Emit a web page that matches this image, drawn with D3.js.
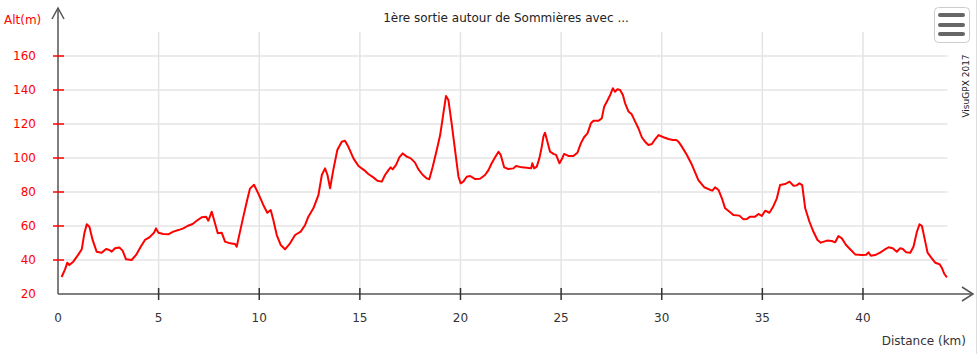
<!DOCTYPE html>
<html>
<head>
<meta charset="utf-8">
<script src="https://cdn.jsdelivr.net/npm/d3@7"></script>
<style>
  body { margin: 0; background: #fff; }
  svg { display: block; font-family: "DejaVu Sans", Verdana, sans-serif; }
</style>
</head>
<body>
<svg class="profile" width="980" height="354"></svg>
<script>
const title = "1ère sortie autour de Sommières avec ...";
const xTicks = [0, 5, 10, 15, 20, 25, 30, 35, 40];
const yTicks = [20, 40, 60, 80, 100, 120, 140, 160];

// distance (km) / altitude (m)
const dist = [0.18,0.35,0.46,0.56,0.76,1.0,1.18,1.31,1.43,1.56,1.72,1.92,2.17,2.39,2.55,2.67,2.83,3.05,3.21,3.38,3.66,3.88,4.11,4.32,4.54,4.77,4.87,4.99,5.23,5.48,5.73,5.98,6.23,6.43,6.69,6.89,7.14,7.36,7.47,7.64,7.8,7.94,8.14,8.3,8.55,8.8,8.88,9.05,9.21,9.38,9.54,9.74,9.95,10.2,10.4,10.57,10.7,10.87,11.07,11.28,11.53,11.78,12.06,12.28,12.44,12.69,12.94,13.11,13.27,13.39,13.52,13.68,13.88,14.1,14.26,14.43,14.68,14.93,15.21,15.42,15.67,15.87,16.09,16.25,16.42,16.53,16.63,16.8,16.96,17.13,17.33,17.53,17.74,17.91,18.13,18.33,18.45,18.62,18.82,18.99,19.15,19.28,19.4,19.56,19.73,19.9,20.01,20.14,20.31,20.48,20.73,20.97,21.22,21.39,21.55,21.72,21.89,22.0,22.17,22.38,22.63,22.76,23.05,23.29,23.51,23.57,23.66,23.79,23.92,24.04,24.12,24.2,24.32,24.45,24.62,24.75,24.92,25.03,25.15,25.36,25.61,25.81,25.98,26.14,26.31,26.48,26.61,26.86,27.02,27.14,27.27,27.44,27.57,27.68,27.8,27.93,28.07,28.18,28.35,28.51,28.68,28.84,29.01,29.17,29.34,29.51,29.67,29.84,30.09,30.33,30.55,30.72,30.83,31.0,31.25,31.5,31.82,32.11,32.41,32.52,32.65,32.82,32.99,33.15,33.37,33.56,33.86,34.06,34.23,34.39,34.64,34.81,34.97,35.14,35.35,35.52,35.72,35.88,36.13,36.35,36.55,36.71,36.84,36.98,37.13,37.34,37.54,37.74,37.91,38.21,38.45,38.62,38.78,38.95,39.16,39.4,39.61,39.95,40.16,40.27,40.39,40.6,40.85,41.05,41.27,41.48,41.68,41.85,41.98,42.15,42.35,42.51,42.68,42.81,42.93,43.06,43.21,43.38,43.59,43.81,43.93,44.04,44.17];
const alt = [30,34.5,38.4,37,39,43,46.3,55.7,61,59.6,51.8,44.9,44.3,46.5,45.9,44.9,46.9,47.3,45.5,40.4,40,43,47.8,51.8,53.3,56,58.6,56,55.3,55.1,56.7,57.6,58.6,60,61.2,63.1,65.1,65.5,63.1,68.4,61.6,55.7,56,50.8,49.8,49.4,47.8,57,65.5,74.3,82,84.3,79.2,72.4,67.8,69.4,63.5,54.7,48.8,46.3,49.8,54.7,56.7,60.6,65.5,70.4,78.2,90,93.9,90,82.2,93,104.7,109.6,110.2,106.6,99.8,95.3,92.9,90.6,88.6,86.6,86.1,90,92.9,94.5,93.3,95.9,100.4,102.7,100.8,99.8,97.3,93.3,90,88,87.5,94.9,104.7,113.5,126.3,136.5,134.1,120.4,104.7,89,85.1,86.1,89,89.4,87.6,87.8,90,92.9,96.9,100.4,103.7,101.8,94.5,93.5,93.9,95.3,94.5,94.3,93.9,96.9,93.9,94.9,99.8,106.7,112.6,114.9,109.6,103.7,102.4,101.8,96.9,99.2,102.4,101.2,101.2,103.1,108.6,112.2,114.5,120.4,121.9,121.9,123.3,130.2,133.1,137.1,141,139,140.4,140,137,132.2,127.3,125.7,121.4,117.5,112.2,109.6,107.6,108.2,111,113.5,112.2,111.2,110.6,110.6,109.6,106.7,101.8,96,87,82.8,81.2,80.8,82.8,81.2,76.3,70.4,68.4,66.5,66.1,63.9,64.1,65.5,65.5,67.1,65.9,69,67.8,71,76.3,84.1,84.7,86.1,83.7,83.9,85.1,84.1,70.4,62.5,56.6,51.8,50.2,51.4,51.2,50.4,54.1,52.7,48.8,45.9,43.3,42.9,43.1,44.5,42.5,42.9,44.3,45.9,47.5,46.9,44.9,46.9,46.5,44.5,44.3,47.8,56.6,61,60,52.7,44.3,41.6,38.4,37.5,35.1,31.9,29.8];

const svg = d3.select(".profile");
const points = dist.map((d, i) => ({ d: d, a: alt[i] }));

const x = d3.scaleLinear().domain([0, 44.2]).range([58, 947.5]);
const y = d3.scaleLinear().domain([20, 160]).range([294, 56]);
const plotTop = 32;

// grid
svg.append("g").selectAll("line").data(yTicks.filter(v => v > 20)).enter().append("line")
  .attr("x1", x(0)).attr("x2", x(44.2))
  .attr("y1", d => y(d)).attr("y2", d => y(d))
  .attr("stroke", "#e4e4e4").attr("stroke-width", 1.5);
svg.append("g").selectAll("line").data(xTicks.filter(v => v > 0)).enter().append("line")
  .attr("x1", d => x(d)).attr("x2", d => x(d))
  .attr("y1", plotTop).attr("y2", y(20))
  .attr("stroke", "#e4e4e4").attr("stroke-width", 1.5);

// profile
svg.append("path").datum(points)
  .attr("fill", "none").attr("stroke", "#f00").attr("stroke-width", 2)
  .attr("stroke-linejoin", "round")
  .attr("d", d3.line().x(p => x(p.d)).y(p => y(p.a)));

// axes
const axisColor = "#555";
svg.append("line").attr("x1", x(0)).attr("x2", 972).attr("y1", y(20)).attr("y2", y(20))
  .attr("stroke", axisColor).attr("stroke-width", 1.5);
svg.append("path").attr("d", `M962,${y(20) - 7}L973,${y(20)}L962,${y(20) + 7}`)
  .attr("fill", "none").attr("stroke", axisColor).attr("stroke-width", 1.5);
svg.append("line").attr("x1", x(0)).attr("x2", x(0)).attr("y1", y(20)).attr("y2", 8)
  .attr("stroke", axisColor).attr("stroke-width", 1.5);
svg.append("path").attr("d", `M${x(0) - 6},19L${x(0)},8L${x(0) + 6},19`)
  .attr("fill", "none").attr("stroke", axisColor).attr("stroke-width", 1.5);

// y ticks + labels (red)
const yt = svg.append("g").selectAll("g").data(yTicks).enter().append("g");
yt.filter(d => d > 20).append("line")
  .attr("x1", 53).attr("x2", 64).attr("y1", d => y(d)).attr("y2", d => y(d))
  .attr("stroke", "#f00").attr("stroke-width", 1.5);
yt.append("text").attr("x", 36).attr("y", d => y(d)).attr("dy", "0.35em")
  .attr("text-anchor", "end").attr("fill", "#f00").attr("font-size", 12)
  .text(d => d);

// x ticks + labels
const xt = svg.append("g").selectAll("g").data(xTicks).enter().append("g");
xt.filter(d => d > 0).append("line")
  .attr("x1", d => x(d)).attr("x2", d => x(d)).attr("y1", 288).attr("y2", 300)
  .attr("stroke", "#333").attr("stroke-width", 1.5);
xt.append("text").attr("x", d => x(d)).attr("y", 322)
  .attr("text-anchor", "middle").attr("fill", "#333").attr("font-size", 12)
  .text(d => d);

// titles
svg.append("text").attr("x", 4).attr("y", 24).attr("fill", "#f00").attr("font-size", 12).text("Alt(m)");
svg.append("text").attr("x", 966).attr("y", 345).attr("text-anchor", "end")
  .attr("fill", "#333").attr("font-size", 12).text("Distance (km)");
svg.append("text").attr("x", 506).attr("y", 22).attr("text-anchor", "middle")
  .attr("fill", "#222").attr("font-size", 12).text(title);
svg.append("text").attr("transform", "translate(969,86) rotate(-90)")
  .attr("text-anchor", "middle").attr("fill", "#222").attr("font-size", 9).text("VisuGPX 2017");

// menu button
svg.append("rect").attr("x", 934.5).attr("y", 7.5).attr("width", 35).attr("height", 35).attr("rx", 4)
  .attr("fill", "#fff").attr("stroke", "#ccc");
svg.append("g").selectAll("line").data([15, 25, 34]).enter().append("line")
  .attr("x1", 940).attr("x2", 963).attr("y1", d => d).attr("y2", d => d)
  .attr("stroke", "#666").attr("stroke-width", 4).attr("stroke-linecap", "round");

// right border
svg.append("line").attr("x1", 976.5).attr("x2", 976.5).attr("y1", 0).attr("y2", 354)
  .attr("stroke", "#ddd");
</script>
</body>
</html>
